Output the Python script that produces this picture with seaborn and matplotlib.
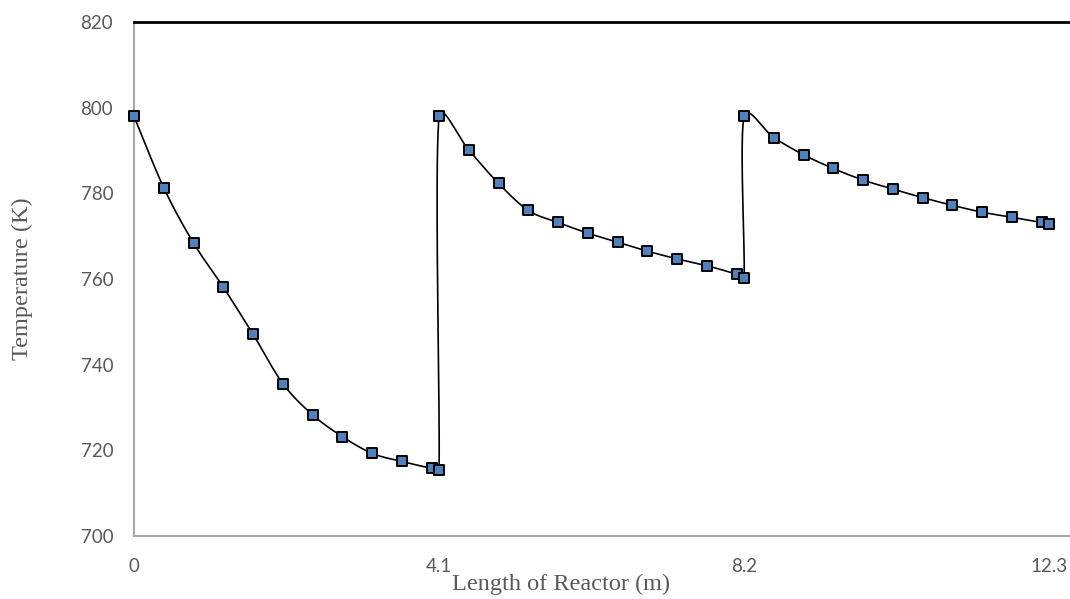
import numpy as np
import pandas as pd
import matplotlib
matplotlib.use("Agg")
import matplotlib.pyplot as plt
import seaborn as sns

# ---- data ----
bed1_x = [0.0, 0.4, 0.8, 1.2, 1.6, 2.0, 2.4, 2.8, 3.2, 3.6, 4.0, 4.1]
bed1_T = [798.0, 781.3, 768.4, 758.1, 747.1, 735.6, 728.3, 723.2, 719.3, 717.4, 715.8, 715.4]
bed2_x = [4.1, 4.5, 4.9, 5.3, 5.7, 6.1, 6.5, 6.9, 7.3, 7.7, 8.1, 8.2]
bed2_T = [798.0, 790.1, 782.3, 776.0, 773.2, 770.7, 768.6, 766.5, 764.7, 763.1, 761.1, 760.2]
bed3_x = [8.2, 8.6, 9.0, 9.4, 9.8, 10.2, 10.6, 11.0, 11.4, 11.8, 12.2, 12.3]
bed3_T = [798.0, 793.0, 789.0, 785.8, 783.1, 781.0, 779.0, 777.2, 775.6, 774.4, 773.2, 772.8]
x_ticks = [0, 4.1, 8.2, 12.3]
x_tick_labels = ["0", "4.1", "8.2", "12.3"]
y_ticks = [700, 720, 740, 760, 780, 800, 820]

xs = np.array(bed1_x + bed2_x + bed3_x)
ts = np.array(bed1_T + bed2_T + bed3_T)
df = pd.DataFrame({"Length of Reactor (m)": xs, "Temperature (K)": ts})

XLIM = (0, (1070 - 134) / 74.4)
YLIM = (700, 820)
AX_W_PX, AX_H_PX = 1070 - 134, 536 - 22
sx = AX_W_PX / (XLIM[1] - XLIM[0])
sy = AX_H_PX / (YLIM[1] - YLIM[0])

# Excel-like smoothed line: Catmull-Rom Bezier in screen space,
# control-point offsets capped relative to the segment length
def smooth(px, py, n=40, cap=0.4):
    P = np.column_stack([np.asarray(px) * sx, np.asarray(py) * sy])
    m = len(P)
    out = []
    t = np.linspace(0, 1, n)[:, None]

    def limit(v, seg_len):
        L = np.linalg.norm(v)
        lim = cap * seg_len
        return v if L <= lim or L == 0 else v * lim / L

    for i in range(m - 1):
        p0, p3 = P[i], P[i + 1]
        seg_len = np.linalg.norm(p3 - p0)
        prev = P[i - 1] if i > 0 else P[i]
        nxt = P[i + 2] if i + 2 < m else P[i + 1]
        c1 = p0 + limit((p3 - prev) / 6.0, seg_len)
        c2 = p3 - limit((nxt - p0) / 6.0, seg_len)
        seg = ((1 - t) ** 3) * p0 + 3 * ((1 - t) ** 2) * t * c1 + 3 * (1 - t) * t ** 2 * c2 + t ** 3 * p3
        out.append(seg if i == 0 else seg[1:])
    c = np.vstack(out)
    return c[:, 0] / sx, c[:, 1] / sy

cx, cy = smooth(xs, ts)

sns.set_theme(style="white")
plt.rcParams["font.family"] = ["Lato", "DejaVu Sans"]

fig = plt.figure(figsize=(10.70, 5.99), dpi=100)
ax = fig.add_axes([134 / 1070, 1 - 536 / 599, 1 - 134 / 1070, AX_H_PX / 599])

sns.lineplot(x=cx, y=cy, sort=False, estimator=None, color="black", linewidth=1.2, ax=ax, zorder=2)
sns.scatterplot(data=df, x="Length of Reactor (m)", y="Temperature (K)", marker="s", s=60,
                color="#4F81BD", edgecolor="black", linewidth=1.4, ax=ax, zorder=3, clip_on=False)

ax.set_xlim(*XLIM)
ax.set_ylim(*YLIM)
ax.set_xticks(x_ticks)
ax.set_xticklabels(x_tick_labels)
ax.set_yticks(y_ticks)
ax.tick_params(axis="both", length=0, labelsize=13.5, labelcolor="#595959")
ax.tick_params(axis="x", pad=16)
ax.tick_params(axis="y", pad=15)

for s in ["left", "bottom"]:
    ax.spines[s].set_color("#A6A6A6")
    ax.spines[s].set_linewidth(1.5)
ax.spines["top"].set_visible(True)
ax.spines["top"].set_color("black")
ax.spines["top"].set_linewidth(2.0)
ax.spines["right"].set_visible(False)
ax.grid(False)

serif = ["Liberation Serif", "DejaVu Serif"]
ax.set_xlabel("Length of Reactor (m)", family=serif, fontsize=17.5, color="#595959")
ax.set_ylabel("Temperature (K)", family=serif, fontsize=17.5, color="#595959")
ax.xaxis.label.set_va("center")
ax.yaxis.label.set_va("center")
ax.xaxis.set_label_coords((561 - 134) / 936, (536 - 584) / 514)
ax.yaxis.set_label_coords((22 - 134) / 936, 0.5)

fig.savefig("out.png", dpi=100)
